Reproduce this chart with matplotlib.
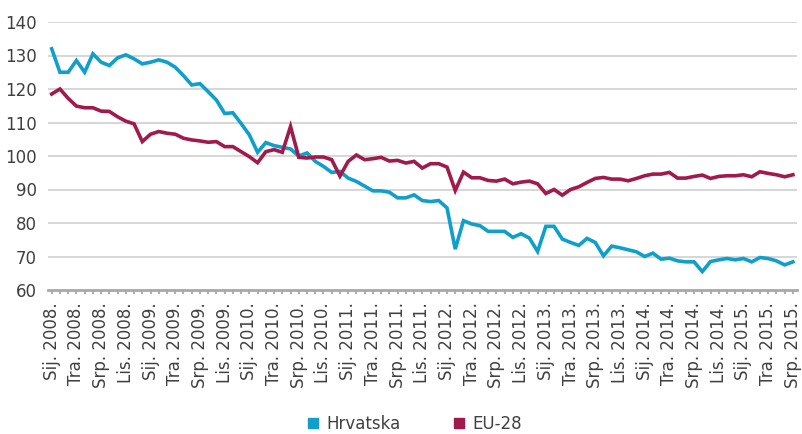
import matplotlib
matplotlib.use("Agg")
import matplotlib.pyplot as plt
from matplotlib.lines import Line2D

months = ["Sij.", "Velj.", "Ožu.", "Tra.", "Svi.", "Lip.", "Srp.", "Kol.", "Ruj.", "Lis.", "Stu.", "Pro."]
years = list(range(2008, 2016))
n_points = 91  # Jan 2008 - Jul 2015
dates = [f"{months[i % 12]} {years[i // 12]}." for i in range(n_points)]

hrvatska = [132.0, 125.0, 125.0, 128.5, 125.0, 130.5, 128.0, 127.0, 129.3, 130.2,
            129.0, 127.5, 128.0, 128.7, 128.0, 126.5, 124.0, 121.2, 121.6, 119.2,
            116.7, 112.7, 112.9, 109.7, 106.3, 101.1, 104.0, 103.1, 102.6, 102.1,
            100.0, 100.9, 98.4, 96.9, 95.1, 95.4, 93.4, 92.4, 91.0, 89.6,
            89.6, 89.2, 87.5, 87.5, 88.4, 86.7, 86.4, 86.7, 84.5, 72.2,
            80.7, 79.7, 79.2, 77.5, 77.5, 77.5, 75.7, 76.8, 75.5, 71.5,
            79.0, 79.0, 75.2, 74.2, 73.3, 75.4, 74.2, 70.2, 73.1, 72.6,
            72.0, 71.4, 70.0, 71.0, 69.2, 69.5, 68.7, 68.4, 68.4, 65.5,
            68.5, 69.0, 69.4, 69.0, 69.4, 68.4, 69.7, 69.4, 68.7, 67.5,
            68.4]

eu28 = [118.5, 120.0, 117.2, 114.9, 114.4, 114.4, 113.4, 113.3, 111.7, 110.4,
        109.6, 104.3, 106.5, 107.3, 106.8, 106.5, 105.3, 104.8, 104.5, 104.1,
        104.3, 102.8, 102.8, 101.3, 99.8, 98.0, 101.3, 101.9, 101.1, 108.8,
        99.6, 99.4, 99.7, 99.7, 98.9, 94.0, 98.4, 100.3, 98.9, 99.2,
        99.6, 98.5, 98.7, 97.9, 98.4, 96.4, 97.7, 97.7, 96.7, 89.7,
        95.2, 93.5, 93.5, 92.7, 92.5, 93.1, 91.7, 92.2, 92.5, 91.7,
        88.8, 90.0, 88.3, 90.0, 90.8, 92.1, 93.3, 93.6, 93.1, 93.1,
        92.6, 93.3, 94.1, 94.6, 94.6, 95.1, 93.4, 93.4, 93.9, 94.3,
        93.3, 93.9, 94.1, 94.1, 94.4, 93.8, 95.3, 94.8, 94.4, 93.8,
        94.4]

series_names = ["Hrvatska", "EU-28"]
colors = ["#109fcb", "#a11a4c"]
yticks = [60, 70, 80, 90, 100, 110, 120, 130, 140]

plt.rcParams['font.family'] = ['DejaVu Sans']
text_color = "#404040"

fig = plt.figure(figsize=(8.02, 4.34), dpi=100)
ax = fig.add_axes([48/802, 1 - 290/434, (797 - 48)/802, (290 - 22)/434])

x = list(range(n_points))
ax.plot(x, hrvatska, color=colors[0], lw=2.6, solid_joinstyle='miter', zorder=3)
ax.plot(x, eu28, color=colors[1], lw=2.6, solid_joinstyle='miter', zorder=3)

ax.set_ylim(60, 140)
ax.set_xlim(-0.45, 90.5)
ax.set_yticks(yticks)
ax.set_yticklabels([str(v) for v in yticks], fontsize=12, color=text_color)
for v in yticks[1:]:
    ax.axhline(v, color="#cfcfcf", lw=1.2, zorder=1)

major = list(range(0, n_points, 3))
ax.set_xticks(major)
ax.set_xticklabels([dates[i] for i in major], rotation=90, fontsize=12, color=text_color)
ax.set_xticks(x, minor=True)
ax.tick_params(axis='x', which='both', length=3, width=1.3, color="#a8a8a8", pad=6, direction='out')
ax.tick_params(axis='y', length=0, pad=8)

for s in ["top", "right", "left"]:
    ax.spines[s].set_visible(False)
ax.spines["bottom"].set_color("#a8a8a8")
ax.spines["bottom"].set_linewidth(2.0)

handles = [Line2D([], [], marker='s', ls='none', color=c, markersize=7.5) for c in colors]
fig.legend(handles, series_names, loc='center', bbox_to_anchor=(0.515, 0.024), ncol=2,
           frameon=False, fontsize=12, handletextpad=0.3, columnspacing=3.0,
           labelcolor=text_color, handlelength=1.0)

fig.savefig("out.png", dpi=100)
